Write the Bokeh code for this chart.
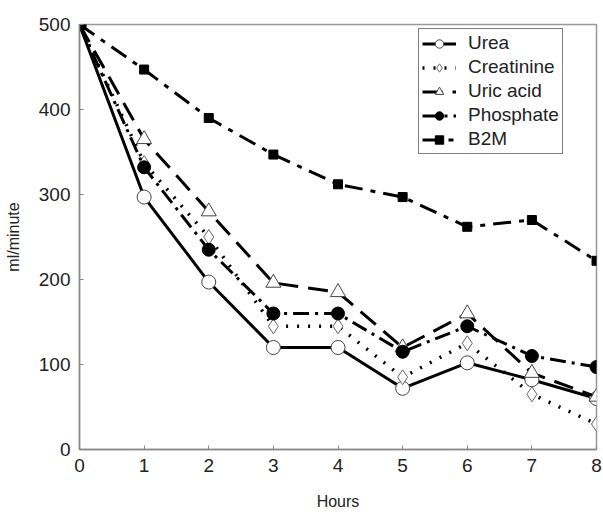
from bokeh.plotting import figure
from bokeh.models import Range1d, FixedTicker, Legend, LegendItem
from bokeh.embed import file_html
from bokeh.resources import INLINE

hours = [0, 1, 2, 3, 4, 5, 6, 7, 8]
urea = [500, 297, 197, 120, 120, 72, 102, 82, 60]
creatinine = [500, 337, 250, 145, 145, 85, 125, 65, 30]
uric_acid = [500, 365, 280, 196, 185, 120, 160, 90, 62]
phosphate = [500, 332, 235, 160, 160, 115, 145, 110, 97]
b2m = [500, 447, 390, 347, 312, 297, 262, 270, 222]
x_ticks = [0, 1, 2, 3, 4, 5, 6, 7, 8]
y_ticks = [0, 100, 200, 300, 400, 500]

FONT = "Liberation Sans"

p = figure(width=603, height=512, output_backend="svg", toolbar_location=None,
           x_range=Range1d(0, 8), y_range=Range1d(0, 500),
           min_border_left=79, min_border_right=7, min_border_top=24, min_border_bottom=60)
p.grid.visible = False
p.outline_line_color = "#999999"
p.outline_line_width = 1.5
p.background_fill_color = "white"
p.border_fill_color = "white"

for ax in (p.xaxis[0], p.yaxis[0]):
    ax.axis_line_color = "#888888"
    ax.axis_line_width = 1.5
    ax.major_tick_in = 4
    ax.major_tick_out = 0
    ax.major_tick_line_color = "#888888"
    ax.minor_tick_line_color = None
    ax.major_label_text_font = FONT
    ax.major_label_text_font_size = "19px"
    ax.major_label_text_color = "#222222"
    ax.major_label_standoff = 9
    ax.axis_label_text_font = FONT
    ax.axis_label_text_font_size = "16px"
    ax.axis_label_text_font_style = "normal"
    ax.axis_label_text_color = "#222222"

p.xaxis.ticker = FixedTicker(ticks=x_ticks)
p.yaxis.ticker = FixedTicker(ticks=y_ticks)
p.xaxis.axis_label = "Hours"
p.yaxis.axis_label = "ml/minute"
p.xaxis.axis_label_standoff = 18
p.yaxis.axis_label_standoff = 14

items = []
l1 = p.line(hours, urea, line_color="black", line_width=3)
m1 = p.scatter(hours, urea, marker="circle", size=14, fill_color="white", line_color="#444444", line_width=1)
items.append(LegendItem(label="Urea", renderers=[l1, m1]))
l2 = p.line(hours, creatinine, line_color="black", line_width=3.5, line_dash="2 9")
m2 = p.scatter(hours, creatinine, marker="diamond", size=15, fill_color="white", line_color="#666666", line_width=1)
items.append(LegendItem(label="Creatinine", renderers=[l2, m2]))
l3 = p.line(hours, uric_acid, line_color="black", line_width=3, line_dash="20 10")
m3 = p.scatter(hours, uric_acid, marker="triangle", size=15, fill_color="white", line_color="#444444", line_width=1)
items.append(LegendItem(label="Uric acid", renderers=[l3, m3]))
l4 = p.line(hours, phosphate, line_color="black", line_width=3, line_dash="16 6 3 6")
m4 = p.scatter(hours, phosphate, marker="circle", size=13, fill_color="black", line_color="black")
items.append(LegendItem(label="Phosphate", renderers=[l4, m4]))
l5 = p.line(hours, b2m, line_color="black", line_width=3, line_dash="18 8 5 8")
m5 = p.scatter(hours, b2m, marker="square", size=9, fill_color="black", line_color="black")
items.append(LegendItem(label="B2M", renderers=[l5, m5]))

legend = Legend(items=items, location=(339, 295), border_line_color="black", border_line_width=1.2,
                label_text_font=FONT, label_text_font_size="19px", label_text_color="#222222",
                glyph_width=34, glyph_height=21, label_height=21, spacing=2, padding=3,
                margin=0, label_standoff=12, background_fill_alpha=1)
p.add_layout(legend, "center")

open("out.html", "w").write(file_html(p, INLINE))
